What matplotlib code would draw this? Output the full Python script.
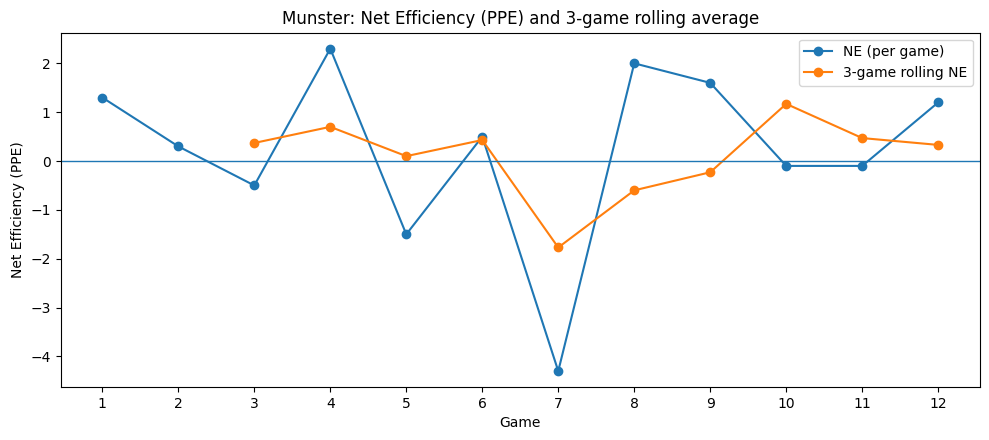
import matplotlib
matplotlib.use("Agg")
import matplotlib.pyplot as plt

# values
games = [1, 2, 3, 4, 5, 6, 7, 8, 9, 10, 11, 12]
ne_per_game = [1.3, 0.3, -0.5, 2.3, -1.5, 0.5, -4.3, 2.0, 1.6, -0.1, -0.1, 1.2]
rolling_games = [3, 4, 5, 6, 7, 8, 9, 10, 11, 12]
rolling_ne = [0.37, 0.70, 0.10, 0.43, -1.77, -0.60, -0.23, 1.17, 0.47, 0.33]

fig, ax = plt.subplots(figsize=(9.89, 4.4), dpi=100)
ax.plot(games, ne_per_game, marker="o", label="NE (per game)")
ax.plot(rolling_games, rolling_ne, marker="o", label="3-game rolling NE")
ax.axhline(0, linewidth=1)

ax.set_title("Munster: Net Efficiency (PPE) and 3-game rolling average")
ax.set_xlabel("Game")
ax.set_ylabel("Net Efficiency (PPE)")
ax.set_xticks(games)
ax.legend()

fig.subplots_adjust(left=0.0612, right=0.9909, top=0.926, bottom=0.120)
plt.savefig("out.png")
plt.close(fig)
